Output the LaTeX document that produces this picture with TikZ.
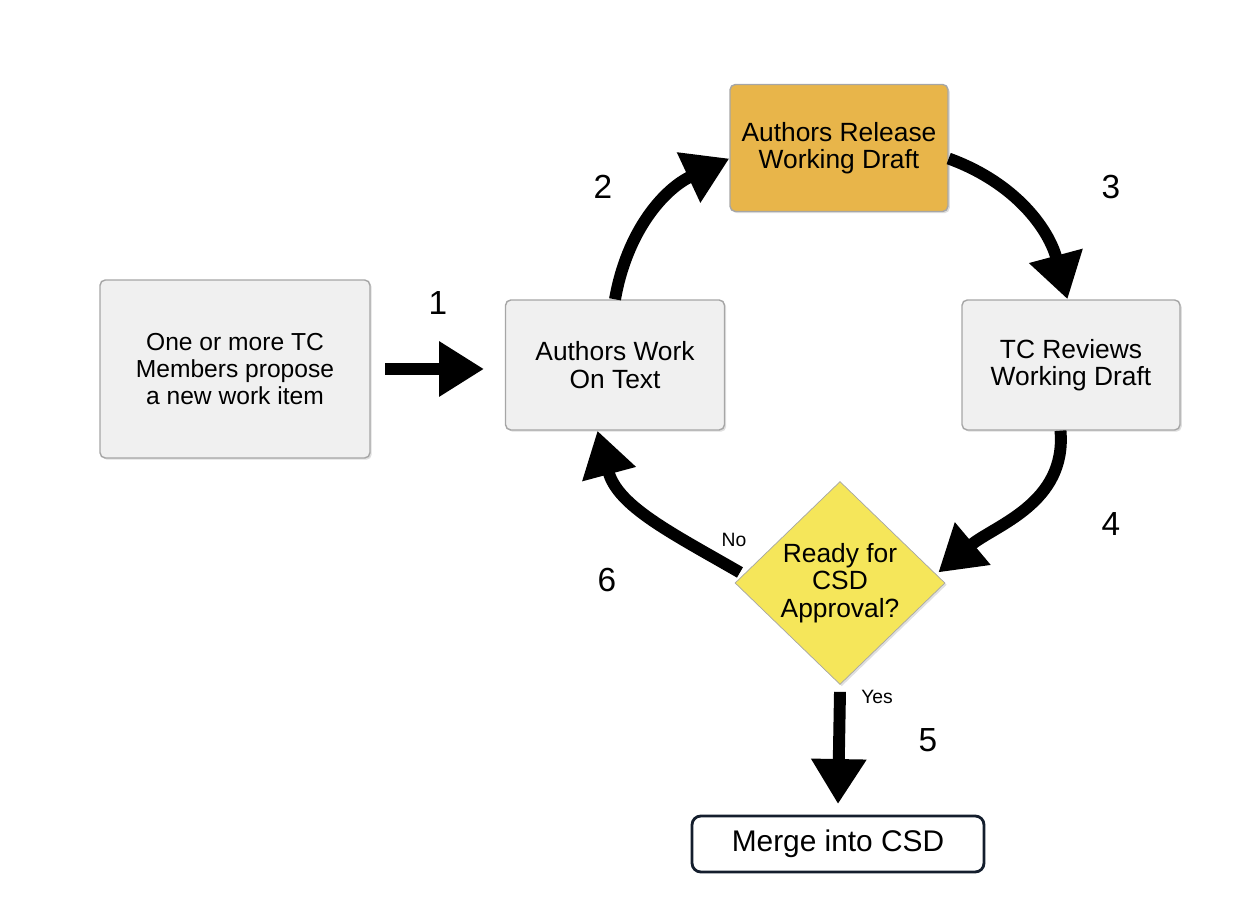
\documentclass[tikz,border=0pt]{standalone}
\usepackage{fontspec}
\setmainfont{Liberation Sans}
\usetikzlibrary{arrows.meta,shapes.geometric,shadows}
\begin{document}
\begin{tikzpicture}[x=0.02cm,y=0.02cm,
  box/.style={draw=gray!70,fill=gray!12,rounded corners=3pt,line width=0.8pt,align=center,font=\fontsize{15}{15.5}\selectfont,drop shadow={opacity=0.25,shadow xshift=1pt,shadow yshift=-1pt}},
  big/.style={line width=6.8pt,-{Triangle[length=0.9cm,width=1.05cm]}},
  num/.style={font=\fontsize{19}{22}\selectfont},
  lab/.style={font=\fontsize{11}{13}\selectfont}]
\useasboundingbox (0,0) rectangle (1260,912);
\node[box,font=\fontsize{14}{15.5}\selectfont,minimum width=5.4cm,minimum height=3.56cm] (prop) at (235,543) {One or more TC\\Members propose\\a new work item};
\node[box,minimum width=4.38cm,minimum height=2.6cm] (work) at (615,547) {Authors Work\\On Text};
\node[box,fill={rgb,255:red,232;green,181;blue,74},minimum width=4.36cm,minimum height=2.54cm] (rel) at (839,764) {Authors Release\\Working Draft};
\node[box,minimum width=4.36cm,minimum height=2.6cm] (tc) at (1071,547) {TC Reviews\\Working Draft};
\node[diamond,draw=gray!70,fill={rgb,255:red,245;green,230;blue,90},minimum width=4.2cm,minimum height=4.06cm,inner sep=0pt,align=center,font=\fontsize{15}{15.5}\selectfont,drop shadow={opacity=0.25,shadow xshift=1pt,shadow yshift=-1pt}] (dia) at (840,329) {Ready for\\CSD\\Approval?};
\node[draw={rgb,255:red,20;green,30;blue,45},line width=1.6pt,rounded corners=5pt,minimum width=5.84cm,minimum height=1.12cm,font=\fontsize{17}{19}\selectfont] (merge) at (838,68) {Merge into CSD};
\coordinate (a1) at (385,543);
\coordinate (a2) at (484,543);
\draw[big] (a1) -- (a2);
\draw[big] (work.north) to[out=80,in=205] ([yshift=-6]rel.west);
\draw[big] ([yshift=-6]rel.east) to[out=-20,in=105] ([xshift=-2]tc.north);
\draw[big] ([xshift=-6]tc.south) to[out=-85,in=40] ([xshift=-4,yshift=6]dia.east);
\draw[big] ([xshift=3,yshift=6]dia.west) to[out=150,in=-75] ([xshift=-10]work.south);
\draw[big] ([yshift=-4]dia.south) -- ([yshift=6]merge.north);
\node[num] (n1) at (438,609) {1};
\node[num] (n2) at (603,725) {2};
\node[num] (n3) at (1111,725) {3};
\node[num] (n4) at (1111,388) {4};
\node[num] (n5) at (928,172) {5};
\node[num] (n6) at (607,332) {6};
\node[lab] (no) at (734,372) {No};
\node[lab] (yes) at (877,215) {Yes};
\end{tikzpicture}
\end{document}
